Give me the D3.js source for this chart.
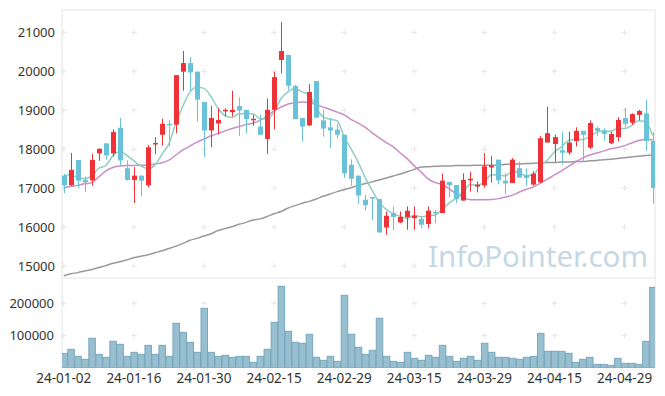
<!DOCTYPE html>
<html>
<head>
<meta charset="utf-8">
<script src="https://cdn.jsdelivr.net/npm/d3@7"></script>
<style>
  body { margin: 0; background: #fff; }
  svg { display: block; font-family: "Noto Sans", sans-serif; }
</style>
</head>
<body>
<svg id="chart" width="665" height="396"></svg>
<script>
// Trading days shown on the chart
const dates = [
    "24-01-02","24-01-03","24-01-04","24-01-05","24-01-08","24-01-09","24-01-10","24-01-11","24-01-12","24-01-15",
    "24-01-16","24-01-17","24-01-18","24-01-19","24-01-22","24-01-23","24-01-24","24-01-25","24-01-26","24-01-29",
    "24-01-30","24-01-31","24-02-01","24-02-02","24-02-05","24-02-06","24-02-07","24-02-08","24-02-13","24-02-14",
    "24-02-15","24-02-16","24-02-19","24-02-20","24-02-21","24-02-22","24-02-23","24-02-26","24-02-27","24-02-28",
    "24-02-29","24-03-04","24-03-05","24-03-06","24-03-07","24-03-08","24-03-11","24-03-12","24-03-13","24-03-14",
    "24-03-15","24-03-18","24-03-19","24-03-20","24-03-21","24-03-22","24-03-25","24-03-26","24-03-27","24-03-28",
    "24-03-29","24-04-01","24-04-02","24-04-03","24-04-04","24-04-05","24-04-08","24-04-09","24-04-11","24-04-12",
    "24-04-15","24-04-16","24-04-17","24-04-18","24-04-19","24-04-22","24-04-23","24-04-24","24-04-25","24-04-26",
    "24-04-29","24-04-30","24-05-02","24-05-03","24-05-07"
];

const openPrices = [
    17320,17070,17720,17210,17200,17890,18150,17890,18550,17510,
    17210,17320,17070,18120,18370,18650,18630,19990,20210,19990,
    19210,18480,18660,18970,18950,19110,19010,18750,18580,18260,
    19010,20290,20420,19620,18800,18610,19750,18740,18560,18500,
    18370,17600,17320,16700,16770,16720,15990,16360,16120,16250,
    16230,16210,16080,16390,16360,17160,17080,16680,17200,17040,
    17070,17530,17730,17190,17130,17510,17330,17090,17150,18170,
    18130,17970,17910,18210,18470,18040,18540,18470,18150,18310,
    18800,18680,18880,18920,18210
];
const highPrices = [
    17370,17900,17720,17300,17880,18020,18150,18510,18800,17710,
    17540,17320,18110,18310,18780,18750,19900,20520,20360,19990,
    19210,19110,19050,19050,19500,19330,19010,18880,18880,19300,
    19990,21260,20420,19650,18800,19670,19750,19010,18800,18650,
    18370,17740,17320,16830,16770,16720,16400,16530,16400,16530,
    16530,16290,16530,16440,17370,17160,17080,17380,17410,17170,
    17900,17820,17730,17390,17770,17680,17510,17430,18340,19090,
    18370,18450,18450,18560,18470,18740,18580,18540,18450,18820,
    19050,18920,19010,19270,18430
];
const lowPrices = [
    16870,17060,17000,16900,17060,17700,17730,17810,17560,17190,
    16620,16790,17020,17870,18090,18070,18410,19500,19500,18710,
    17800,18050,18380,18840,18840,18340,18410,18600,18370,17880,
    18510,19950,19520,18770,18200,18590,18810,18320,18030,18280,
    17260,17060,16600,16430,16170,15860,15800,15910,16100,15930,
    15930,15960,15970,16100,16360,16770,16610,16680,16910,16890,
    17020,17140,17100,16850,17130,17270,17060,17060,17130,18170,
    17680,17610,17860,18070,17680,18000,18340,18220,18130,18200,
    18560,18620,18740,17960,16600
];
const closePrices = [
    17070,17470,17190,17150,17720,18010,17840,18440,17710,17210,
    17320,17190,18050,18160,18650,18630,19900,20210,19970,19270,
    18480,18800,18750,19010,19010,18990,18770,18780,18370,19010,
    19850,20520,19630,18770,18580,19470,18810,18530,18480,18370,
    17380,17240,16810,16560,16730,15860,16290,16260,16260,16420,
    16290,16060,16420,16350,17190,17070,16720,17210,17240,17090,
    17560,17580,17200,17120,17730,17270,17260,17370,18280,18410,
    18310,17910,18170,18470,18370,18670,18470,18390,18390,18750,
    18650,18900,18980,18210,17000
];

// Moving averages
const ma5 = [
    17320,17340,17270,17240,17320,17510,17580,17830,17940,17840,
    17700,17570,17500,17590,17870,18140,18680,19110,19470,19590,
    19560,19350,19050,18860,18810,18910,18910,18910,18780,18780,
    18950,19300,19480,19560,19470,19400,19050,18830,18770,18730,
    18310,18000,17660,17270,16940,16640,16450,16340,16280,16220,
    16300,16260,16290,16310,16460,16620,16750,16910,17090,17070,
    17160,17340,17330,17310,17440,17380,17320,17350,17580,17720,
    17930,18060,18220,18250,18250,18320,18430,18470,18460,18530,
    18530,18610,18730,18700,18350
];
const ma20 = [
    17010,17040,17070,17110,17140,17290,17440,17530,17570,17580,
    17580,17590,17590,17620,17650,17720,17850,17980,18080,18180,
    18260,18340,18400,18470,18530,18580,18630,18670,18740,18850,
    18980,19080,19160,19190,19210,19200,19150,19080,19020,18950,
    18880,18760,18670,18560,18420,18290,18170,18060,17900,17750,
    17570,17410,17230,17140,17090,16980,16850,16760,16700,16700,
    16700,16710,16730,16770,16820,16900,16970,17030,17130,17230,
    17340,17440,17560,17670,17770,17850,17900,17950,18010,18040,
    18090,18160,18220,18250,18240
];
const ma60 = [
    14750,14800,14830,14870,14910,14960,15010,15070,15110,15160,
    15210,15250,15290,15340,15390,15450,15510,15580,15660,15710,
    15770,15830,15910,15960,16010,16070,16120,16180,16210,16270,
    16340,16400,16490,16550,16610,16660,16720,16790,16850,16910,
    16960,17010,17070,17120,17160,17210,17260,17310,17360,17420,
    17480,17540,17550,17560,17570,17570,17580,17580,17580,17590,
    17590,17590,17590,17610,17610,17620,17630,17640,17650,17660,
    17660,17670,17670,17680,17680,17700,17710,17730,17740,17760,
    17780,17800,17820,17840,17850
];

const volumes = [
    45000,57700,36000,26800,91700,42200,33000,82400,73100,36000,
    48400,42200,70000,42200,70000,36000,138000,110200,79300,48400,
    184400,48400,36000,39100,33000,36000,36000,17500,36000,57700,
    141100,252400,113300,79300,76200,104000,33000,23700,36000,20600,
    224500,104000,63900,42200,54600,153500,36000,20600,17500,48400,
    29900,23700,39100,33000,70000,36000,20600,29900,36000,23700,
    76200,48400,33000,33000,29900,26800,33000,36000,107100,51500,
    51500,51500,45300,17500,26800,33000,11300,11300,8200,29900,
    14400,14400,11300,82400,249000
];

const priceTicks = [15000, 16000, 17000, 18000, 19000, 20000, 21000];
const volumeTicks = [100000, 200000];

const upColor = "#ee3237";
const downColor = "#6ac2d8";

function drawChart() {
    const svg = d3.select("#chart");
    const left = 62, right = 655;
    const mainTop = 10, mainBottom = 278;
    const volTop = 278, volBottom = 368;

    const x = d3.scaleBand()
        .domain(dates)
        .range([60.3, 60.3 + dates.length * 7.01])
        .padding(0);
    const cx = d => x(d) + x.bandwidth() / 2;

    const y = d3.scaleLinear()
        .domain([14692, 21573])
        .range([mainBottom, mainTop]);

    const yVol = d3.scaleLinear()
        .domain([0, 278000])
        .range([volBottom, volTop]);

    const defs = svg.append("defs");
    defs.append("clipPath").attr("id", "clip-main")
        .append("rect").attr("x", left).attr("y", mainTop)
        .attr("width", right - left).attr("height", mainBottom - mainTop);
    defs.append("clipPath").attr("id", "clip-vol")
        .append("rect").attr("x", left).attr("y", volTop)
        .attr("width", right - left).attr("height", volBottom - volTop);

    // panel borders
    svg.append("rect")
        .attr("x", left).attr("y", mainTop)
        .attr("width", right - left).attr("height", mainBottom - mainTop)
        .attr("fill", "none").attr("stroke", "#e4e4e4");
    svg.append("path")
        .attr("d", `M${left},${volTop}V${volBottom}M${right},${volTop}V${volBottom}`)
        .attr("stroke", "#e4e4e4").attr("fill", "none");

    // '+' grid marks at tick crossings
    const tickDates = dates.filter((d, i) => i % 10 === 0);
    const crosses = [];
    tickDates.forEach(d => {
        priceTicks.forEach(v => crosses.push([cx(d), y(v)]));
        volumeTicks.forEach(v => crosses.push([cx(d), yVol(v)]));
    });
    svg.append("g")
        .selectAll("path")
        .data(crosses)
        .enter().append("path")
        .attr("d", c => `M${c[0] - 3},${c[1]}H${c[0] + 3}M${c[0]},${c[1] - 3}V${c[1] + 3}`)
        .attr("stroke", "#e6e6e6")
        .attr("stroke-width", 1);

    // watermark
    svg.append("text")
        .attr("x", 648).attr("y", 267)
        .attr("text-anchor", "end")
        .attr("font-size", 29.5)
        .attr("fill", "#c6d8e3")
        .text("InfoPointer.com");

    const main = svg.append("g").attr("clip-path", "url(#clip-main)");

    // moving averages
    const lineFor = arr => d3.line()
        .x((d, i) => cx(dates[i]))
        .y(d => y(d))
        .curve(d3.curveMonotoneX)(arr);

    main.append("path").attr("d", lineFor(ma60))
        .attr("fill", "none").attr("stroke", "#999").attr("stroke-width", 1.5);
    main.append("path").attr("d", lineFor(ma20))
        .attr("fill", "none").attr("stroke", "#c98ec6").attr("stroke-width", 1.5);
    main.append("path").attr("d", lineFor(ma5))
        .attr("fill", "none").attr("stroke", "#8fcfc1").attr("stroke-width", 1.5);

    // candles
    const bodyW = 5;
    const candles = main.selectAll(".candle")
        .data(dates)
        .enter().append("g")
        .attr("class", "candle")
        .attr("fill", (d, i) => closePrices[i] >= openPrices[i] ? upColor : downColor)
        .attr("stroke", (d, i) => closePrices[i] >= openPrices[i] ? upColor : downColor);

    candles.append("line")
        .attr("x1", d => Math.round(cx(d)) + 0.5)
        .attr("x2", d => Math.round(cx(d)) + 0.5)
        .attr("y1", (d, i) => y(highPrices[i]))
        .attr("y2", (d, i) => y(lowPrices[i]))
        .attr("stroke-width", 1);

    candles.append("rect")
        .attr("x", d => Math.round(cx(d)) + 0.5 - bodyW / 2)
        .attr("y", (d, i) => y(Math.max(openPrices[i], closePrices[i])))
        .attr("width", bodyW)
        .attr("height", (d, i) => Math.max(1.5, Math.abs(y(openPrices[i]) - y(closePrices[i]))))
        .attr("stroke", "none");

    // volume bars
    svg.append("g").attr("clip-path", "url(#clip-vol)")
        .selectAll("rect")
        .data(volumes)
        .enter().append("rect")
        .attr("x", (d, i) => x(dates[i]) + 0.5)
        .attr("y", d => yVol(d))
        .attr("width", x.bandwidth() - 0.5)
        .attr("height", d => volBottom - yVol(d))
        .attr("fill", "#98bfd0")
        .attr("stroke", "#79a7bd")
        .attr("stroke-width", 1);

    // axes
    const yAxis = svg.append("g")
        .attr("transform", `translate(${left},0)`)
        .call(d3.axisLeft(y).tickValues(priceTicks).tickSize(0).tickPadding(7).tickFormat(d3.format("d")));
    const vAxis = svg.append("g")
        .attr("transform", `translate(${left},0)`)
        .call(d3.axisLeft(yVol).tickValues(volumeTicks).tickSize(0).tickPadding(8).tickFormat(d3.format("d")));
    const xAxis = svg.append("g")
        .attr("transform", `translate(0,${volBottom})`)
        .call(d3.axisBottom(x).tickValues(tickDates).tickSize(0).tickPadding(5));

    [yAxis, vAxis, xAxis].forEach(a => {
        a.select(".domain").remove();
        a.selectAll("text").attr("fill", "#333").attr("font-size", 13)
            .attr("font-family", "'Noto Sans', sans-serif");
    });
    xAxis.selectAll("text").attr("font-size", 13.5);
}

drawChart();
</script>
</body>
</html>
